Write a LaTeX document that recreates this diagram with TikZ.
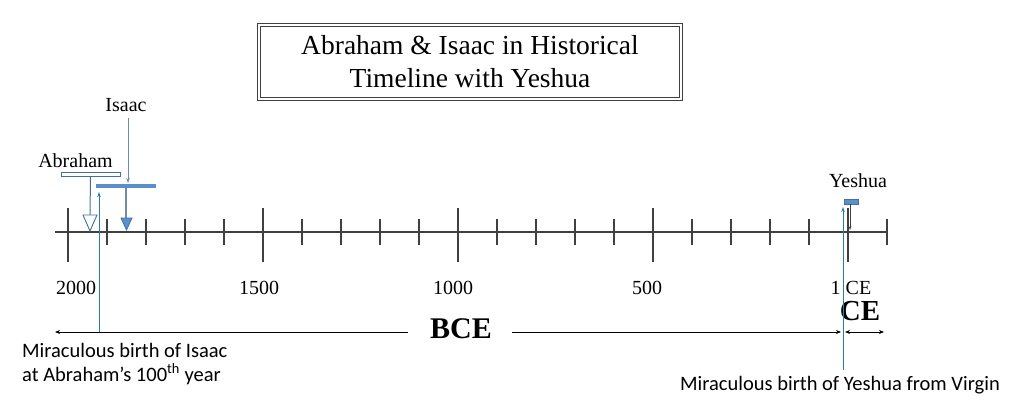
\documentclass[tikz,border=0pt]{standalone}
\usepackage{fontspec}
\setmainfont{Liberation Serif}
\newfontfamily\calib{Carlito}
\usetikzlibrary{arrows.meta}
\definecolor{axisc}{RGB}{64,64,64}
\definecolor{barblue}{RGB}{91,143,201}
\definecolor{edgeblue}{RGB}{65,113,156}
\definecolor{tealc}{RGB}{40,125,160}
\definecolor{grayblue}{RGB}{110,140,170}
\tikzset{
  axisline/.style={draw=axisc, line width=1.4pt},
  majortick/.style={draw=axisc, line width=1.2pt},
  minortick/.style={draw=axisc, line width=1.2pt},
  yearlbl/.style={font=\fontsize{20}{22}\selectfont, anchor=base, inner sep=0pt},
  namelbl/.style={font=\fontsize{20}{24}\selectfont, anchor=base, inner sep=0pt},
  notelbl/.style={font=\calib\fontsize{20.5}{23.5}\selectfont, anchor=base west, inner sep=0pt, align=left},
  tealarrow/.style={draw=tealc, line width=0.9pt, -{Stealth[length=5pt,width=3.5pt]}},
  spanarrow/.style={draw=black, line width=0.9pt, {Stealth[length=5pt,width=4pt]}-{Stealth[length=5pt,width=4pt]}},
}
\begin{document}
\begin{tikzpicture}[x=1pt,y=-1pt]
\useasboundingbox (0,0) rectangle (1024,412);
% title
\node[draw=axisc, double=white, double distance=1.6pt, line width=0.8pt,
      minimum width=422pt, minimum height=74pt, align=center,
      font=\fontsize{27.5}{33}\selectfont] (title) at (470,62)
  {Abraham \& Isaac in Historical\\Timeline with Yeshua};
% axis
\coordinate (axL) at (55,232);
\coordinate (axR) at (887,232);
\draw[axisline] (axL) -- (axR);
\foreach \i in {0,...,21}{
  \pgfmathsetmacro{\xx}{68+39*\i}
  \pgfmathtruncatemacro{\m}{mod(\i,5)}
  \ifnum\m=0
    \draw[majortick] (\xx,208) -- (\xx,262);
  \else
    \draw[minortick] (\xx,219) -- (\xx,245);
  \fi
}
% years
\node[yearlbl] (y2000) at (76,294) {2000};
\node[yearlbl] (y1500) at (259,294) {1500};
\node[yearlbl] (y1000) at (453,294) {1000};
\node[yearlbl] (y500) at (647,294) {500};
\node[yearlbl] (y1) at (851,294) {1 CE};
% BCE / CE spans
\coordinate (bceL) at (55,332);
\coordinate (bceR) at (841,332);
\coordinate (ceL) at (845,332);
\coordinate (ceR) at (884,332);
\node[font=\bfseries\fontsize{30}{32}\selectfont, inner sep=0pt, anchor=base] (bce) at (461,338) {BCE};
\draw[draw=black, line width=0.9pt, -{Stealth[length=5pt,width=4pt]}] (408,332) -- (bceL);
\draw[draw=black, line width=0.9pt, -{Stealth[length=5pt,width=4pt]}] (512,332) -- (bceR);
\draw[spanarrow] (ceL) -- (ceR);
\node[font=\bfseries\fontsize{29}{32}\selectfont, inner sep=0pt, anchor=base] (ce) at (860,320) {CE};
% Abraham
\node[namelbl] (abr) at (75.5,167) {Abraham};
\node[draw=edgeblue, fill=white, line width=0.9pt, minimum width=59pt, minimum height=4pt, inner sep=0pt] (abrbar) at (90.5,174.5) {};
\draw[draw=edgeblue, line width=1pt] (abrbar.south) -- (90,215);
\draw[draw=edgeblue, fill=white, line width=0.9pt] (83,215) -- (97,215) -- (90,231) -- cycle;
% Isaac
\node[namelbl] (isc) at (126,111) {Isaac};
\coordinate (iscbarL) at (96,186);
\coordinate (iscbarR) at (156,186);
\draw[draw=barblue, line width=3.2pt] (iscbarL) -- (iscbarR);
\draw[draw=grayblue, line width=0.9pt, -{Stealth[length=5pt,width=3.5pt]}] (128,118) -- (128,183);
\draw[draw=grayblue, line width=1.2pt] (126,188) -- (126,218);
\draw[draw=edgeblue, fill=barblue, line width=0.8pt] (121,218) -- (132,218) -- (126.5,230) -- cycle;
% Isaac birth arrow
\coordinate (isbirthB) at (99,332);
\coordinate (isbirthT) at (99,192);
\draw[tealarrow] (isbirthB) -- (isbirthT);
\node[notelbl] (isnote) at (22,357) {Miraculous birth of Isaac};
\node[notelbl] (isnote2) at (22,381) {at Abraham’s 100\textsuperscript{th} year};
% Yeshua
\node[namelbl] (yes) at (858,187) {Yeshua};
\node[draw=edgeblue, fill=barblue, line width=0.6pt, minimum width=14pt, minimum height=5pt, inner sep=0pt] (yesbar) at (851,201.5) {};
\draw[draw=axisc, line width=1pt, -{Stealth[length=4pt,width=3pt]}] (850,204) -- (850,230);
\coordinate (yebirthB) at (843,370);
\coordinate (yebirthT) at (843,207);
\draw[tealarrow] (yebirthB) -- (yebirthT);
\node[notelbl] (yenote) at (680,390) {Miraculous birth of Yeshua from Virgin};
\end{tikzpicture}
\end{document}
